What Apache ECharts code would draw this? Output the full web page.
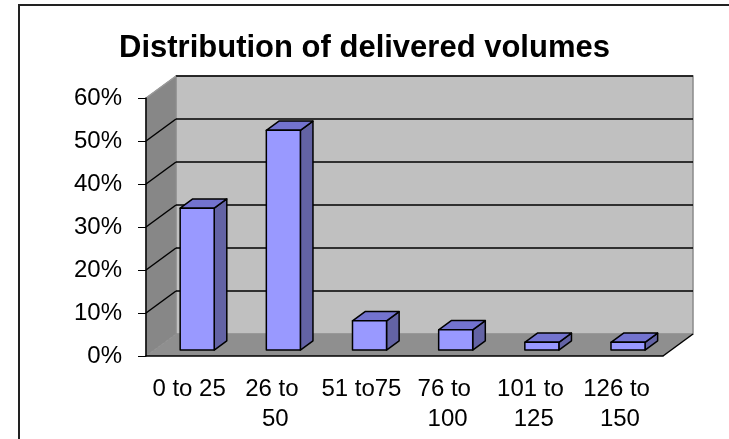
<!DOCTYPE html>
<html>
<head>
<meta charset="utf-8">
<script src="https://cdn.jsdelivr.net/npm/echarts@6/dist/echarts.min.js"></script>
<style>
  html, body { margin: 0; padding: 0; background: #fff; }
  #chart { width: 729px; height: 439px; }
</style>
</head>
<body>
<div id="chart"></div>
<script>
// 类别、数值、刻度
var categories = ['0 to 25', '26 to 50', '51 to75', '76 to 100', '101 to 125', '126 to 150'];
var shares = [0.33, 0.511, 0.068, 0.047, 0.018, 0.018];
var yTicks = [0, 0.1, 0.2, 0.3, 0.4, 0.5, 0.6];

// 伪3D深度（像素）
var DX = 30, DY = -22;
var FONT = "'Liberation Sans', Arial, sans-serif";

var myChart = echarts.init(document.getElementById('chart'));

// 背景墙、侧墙、地板和网格线
function renderWalls(params, api) {
    var n = categories.length;
    var bw = api.size([1, 0])[0];
    var yMax = yTicks[yTicks.length - 1];
    var left = api.coord([0, 0])[0] - bw / 2;
    var right = api.coord([n - 1, 0])[0] + bw / 2;
    var y0 = api.coord([0, 0])[1];
    var yTop = api.coord([0, yMax])[1];
    var children = [];
    // 侧墙
    children.push({
        type: 'polygon',
        shape: { points: [[left, y0], [left, yTop], [left + DX, yTop + DY], [left + DX, y0 + DY]] },
        style: { fill: '#878787', stroke: '#8a8a8a', lineWidth: 1 }
    });
    // 背景墙
    children.push({
        type: 'rect',
        shape: { x: left + DX, y: yTop + DY, width: right - left, height: y0 - yTop },
        style: { fill: '#c0c0c0', stroke: '#8a8a8a', lineWidth: 1.5 }
    });
    // 地板
    children.push({
        type: 'polygon',
        shape: { points: [[left, y0], [right, y0], [right + DX, y0 + DY], [left + DX, y0 + DY]] },
        style: { fill: '#8f8f8f', stroke: null }
    });
    // 网格线
    for (var i = 1; i < yTicks.length; i++) {
        var y = api.coord([0, yTicks[i]])[1];
        children.push({
            type: 'line',
            shape: { x1: left + DX, y1: y + DY, x2: right + DX, y2: y + DY },
            style: { stroke: '#000', lineWidth: 1.5 }
        });
        children.push({
            type: 'line',
            shape: { x1: left, y1: y, x2: left + DX, y2: y + DY },
            style: { stroke: i === yTicks.length - 1 ? '#9a9a9a' : '#000', lineWidth: 1.5 }
        });
    }
    // 地板右边缘
    children.push({
        type: 'line',
        shape: { x1: right, y1: y0, x2: right + DX, y2: y0 + DY },
        style: { stroke: '#000', lineWidth: 1.5 }
    });
    return { type: 'group', children: children };
}

// 3D柱子
function renderBar(params, api) {
    var base = api.coord([api.value(0), 0]);
    var top = api.coord([api.value(0), api.value(1)]);
    var bw = api.size([1, 0])[0] * 0.395;
    var fx = DX * 0.27, fy = DY * 0.27;
    var bx = DX * 0.42, by = DY * 0.42;
    var x0 = base[0] - bw / 2 + fx;
    var x1 = x0 + bw;
    var yb = base[1] + fy;
    var yt = top[1] + fy;
    var edge = { stroke: '#000', lineWidth: 1.5, lineJoin: 'round' };
    return {
        type: 'group',
        children: [
            {
                type: 'polygon',
                shape: { points: [[x1, yt], [x1 + bx, yt + by], [x1 + bx, yb + by], [x1, yb]] },
                style: Object.assign({ fill: '#6363a4' }, edge)
            },
            {
                type: 'polygon',
                shape: { points: [[x0, yt], [x1, yt], [x1 + bx, yt + by], [x0 + bx, yt + by]] },
                style: Object.assign({ fill: '#7373cf' }, edge)
            },
            {
                type: 'rect',
                shape: { x: x0, y: yt, width: bw, height: yb - yt },
                style: Object.assign({ fill: '#9999ff' }, edge)
            }
        ]
    };
}

var barData = [];
for (var i = 0; i < shares.length; i++) {
    barData.push([i, shares[i]]);
}

var option = {
    animation: false,
    title: {
        text: 'Distribution of delivered volumes',
        left: 'center',
        top: 28,
        textStyle: { fontFamily: FONT, fontSize: 31, fontWeight: 'bold', color: '#000' }
    },
    graphic: [{
        type: 'polyline',
        shape: { points: [[19, 445], [19, 5], [735, 5]] },
        style: { fill: null, stroke: '#222', lineWidth: 2 }
    }],
    grid: { left: 146, right: 66, top: 98, bottom: 83 },
    xAxis: {
        type: 'category',
        data: categories,
        z: 10,
        axisLine: { lineStyle: { color: '#000', width: 1.5 } },
        axisTick: { length: 8, lineStyle: { color: '#000', width: 1 } },
        axisLabel: {
            interval: 0, margin: 18, color: '#000',
            fontFamily: FONT, fontSize: 24, lineHeight: 30,
            width: 82, overflow: 'break'
        }
    },
    yAxis: {
        type: 'value',
        min: 0, max: 0.6, interval: 0.1,
        z: 10,
        splitLine: { show: false },
        axisLine: { show: true, lineStyle: { color: '#000', width: 1.5 } },
        axisTick: { show: true, length: 8, lineStyle: { color: '#000', width: 1 } },
        axisLabel: {
            margin: 24, color: '#000', fontFamily: FONT, fontSize: 24,
            formatter: function (v) { return Math.round(v * 100) + '%'; }
        }
    },
    series: [
        {
            name: 'walls',
            type: 'custom',
            renderItem: renderWalls,
            data: [[0, 0]],
            clip: false,
            silent: true,
            z: 1
        },
        {
            name: 'share',
            type: 'custom',
            renderItem: renderBar,
            encode: { x: 0, y: 1 },
            data: barData,
            clip: false,
            z: 3
        }
    ]
};

myChart.setOption(option);
</script>
</body>
</html>
